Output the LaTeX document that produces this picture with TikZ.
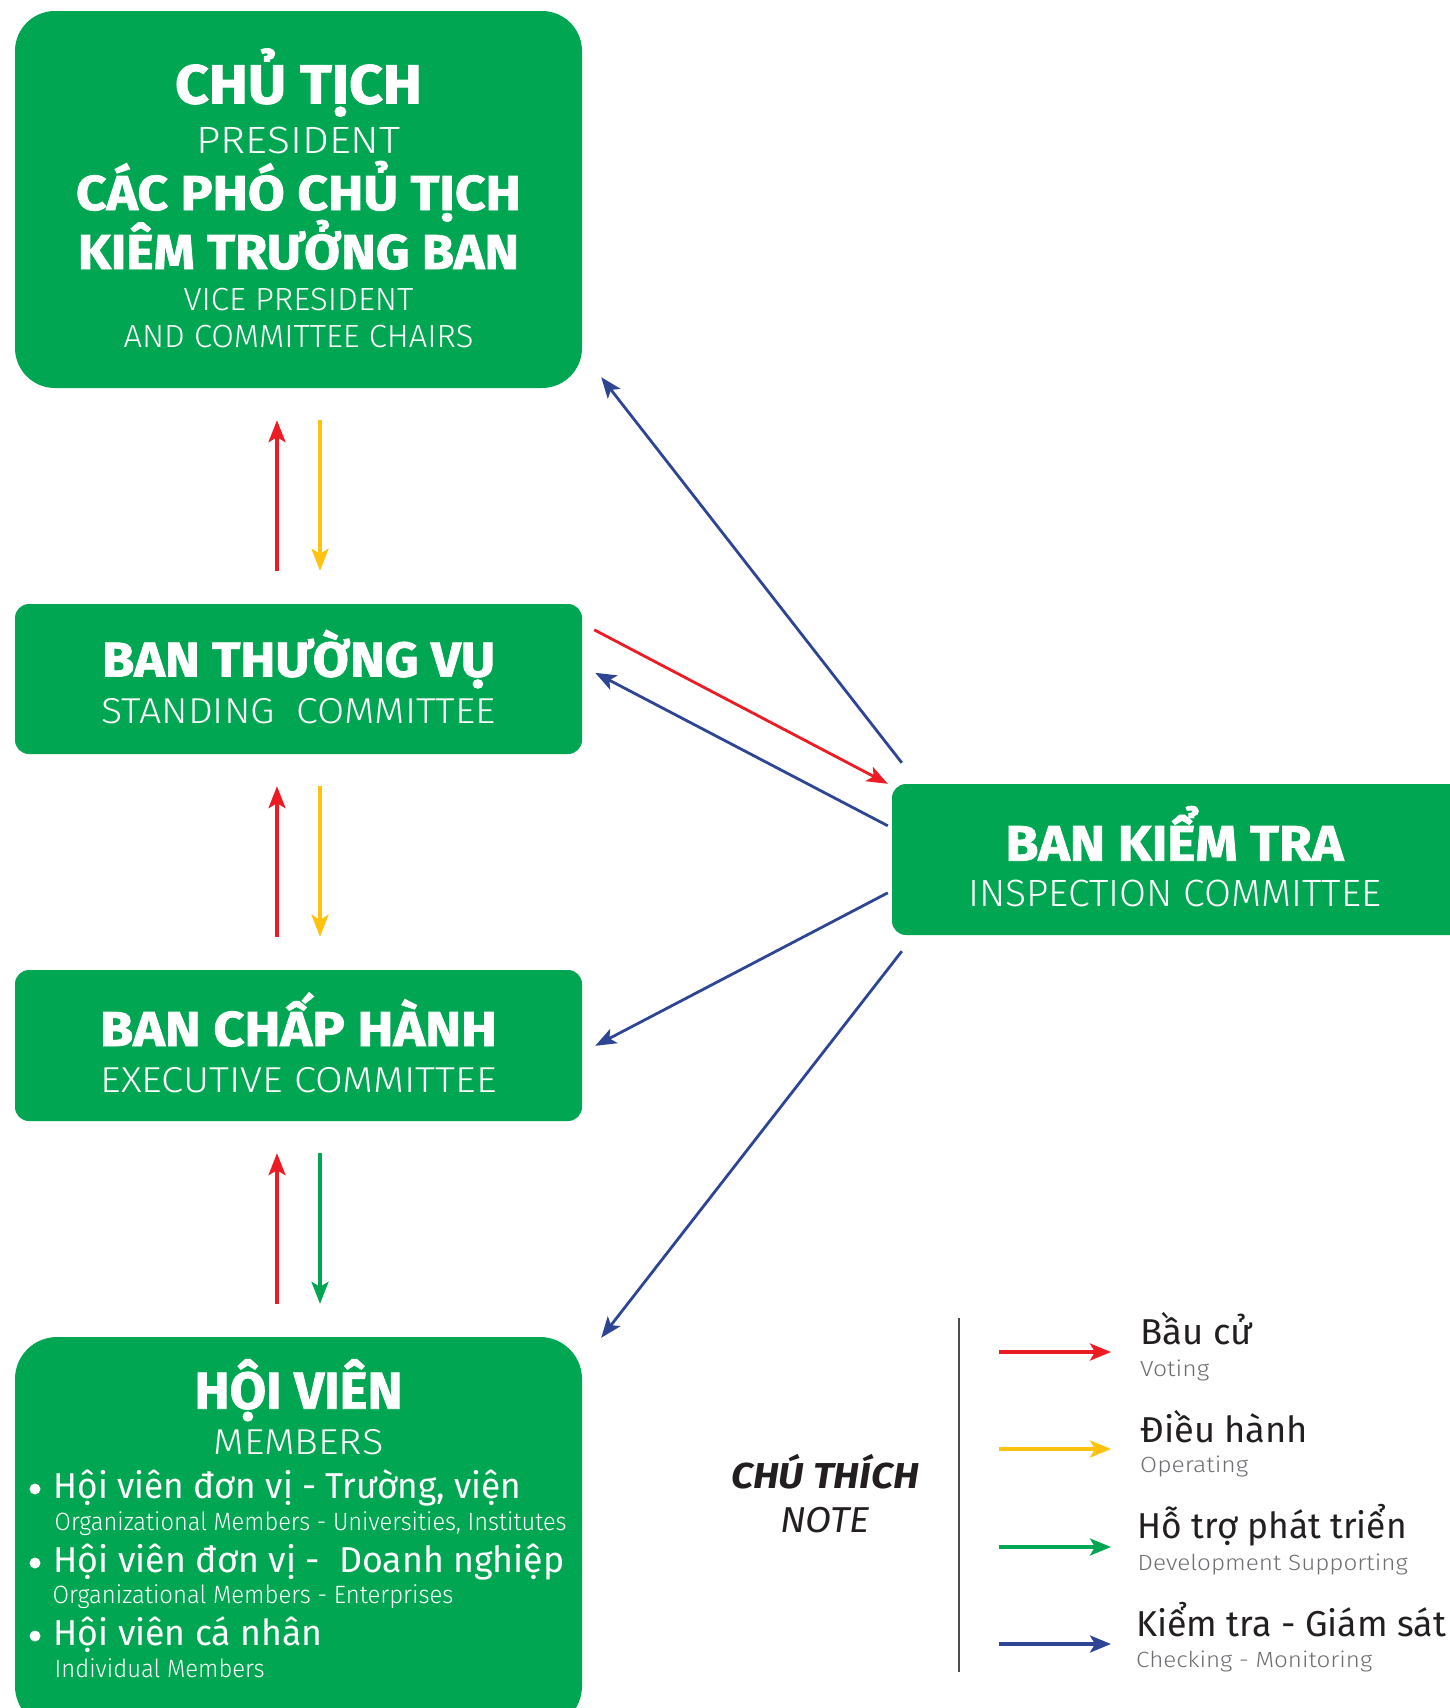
\documentclass[tikz,border=0pt]{standalone}
\usepackage{fontspec}
\usepackage{graphicx}
\setmainfont{Fira Sans}
\newfontfamily\lightf{Fira Sans Light}
\newfontfamily\heavyf{Fira Sans Bold}[FakeBold=1.5]
\usetikzlibrary{arrows.meta,calc}
\definecolor{vgreen}{HTML}{00A651}
\definecolor{vred}{HTML}{ED1C24}
\definecolor{vyellow}{HTML}{FFC20E}
\definecolor{vblue}{HTML}{2D4593}
\definecolor{vtext}{HTML}{231F20}
\definecolor{vgray}{HTML}{6D6E71}
\newcommand{\fitw}[2]{\resizebox{#1pt}{\height}{#2}}
\tikzset{
  box/.style={fill=vgreen, draw=none, inner sep=0pt},
  wt/.style={inner sep=0pt, anchor=base, text=white},
  lt/.style={inner sep=0pt, anchor=base west},
  ct/.style={inner sep=0pt, anchor=base, text=vtext},
  arr/.style={line width=3.2pt, -{Stealth[length=22pt,width=17pt,inset=5pt]}},
  darr/.style={line width=2.8pt, vblue, -{Stealth[length=21pt,width=16pt,inset=5pt]}},
  larr/.style={line width=3.4pt, -{Stealth[length=21pt,width=17pt,inset=5pt]}},
  hv/.style={font=\heavyf\fontsize{#1}{#1}\selectfont},
  lg/.style={font=\lightf\fontsize{#1}{#1}\selectfont},
  rg/.style={font=\fontsize{#1}{#1}\selectfont}
}
\begin{document}
\begin{tikzpicture}[x=1pt,y=-1pt]
\useasboundingbox (0,0) rectangle (1449,1708);
% boxes
\node[box, rounded corners=40pt, minimum width=567pt, minimum height=377pt] (pres) at (298.5,199.5) {};
\node[box, rounded corners=14pt, minimum width=567pt, minimum height=150pt] (stand) at (298.5,679) {};
\node[box, rounded corners=14pt, minimum width=567pt, minimum height=151pt] (exec) at (298.5,1045.5) {};
\node[box, rounded corners=42pt, minimum width=567pt, minimum height=391pt] (memb) at (298.5,1532.5) {};
\node[box, rounded corners=14pt, minimum width=578pt, minimum height=151pt] (insp) at (1181,859.5) {};
% box 1 texts
\node[wt, hv=55] (p1) at (298.5,103.5) {\fitw{247}{CHỦ TỊCH}};
\node[wt, lg=38] (p2) at (298.5,153.6) {\fitw{204}{PRESIDENT}};
\node[wt, hv=49] (p3) at (298.5,210) {\fitw{445}{CÁC PHÓ CHỦ TỊCH}};
\node[wt, hv=49] (p4) at (298.5,269) {\fitw{441}{KIÊM TRƯỞNG BAN}};
\node[wt, lg=32] (p5) at (298.5,310.5) {\fitw{230}{VICE PRESIDENT}};
\node[wt, lg=32] (p6) at (298.5,347.5) {\fitw{350}{AND COMMITTEE CHAIRS}};
% box 2 texts
\node[wt, hv=49] (s1) at (298.5,676.6) {\fitw{393}{BAN THƯỜNG VỤ}};
\node[wt, lg=36] (s2) at (298.5,723.4) {\fitw{394}{STANDING\ \ COMMITTEE}};
% box 3 texts
\node[wt, hv=49] (e1) at (298.5,1046) {\fitw{397}{BAN CHẤP HÀNH}};
\node[wt, lg=36] (e2) at (298.5,1092.8) {\fitw{396}{EXECUTIVE COMMITTEE}};
% inspection texts
\node[wt, hv=50] (i1) at (1174.5,860.7) {\fitw{338}{BAN KIỂM TRA}};
\node[wt, lg=38] (i2) at (1174.5,906.5) {\fitw{413}{INSPECTION COMMITTEE}};
% members texts
\node[wt, hv=52] (m1) at (298.5,1408.7) {\fitw{208}{HỘI VIÊN}};
\node[wt, lg=36] (m2) at (298.5,1454.5) {\fitw{170}{MEMBERS}};
\fill[white] (35,1489) circle (5.5pt);
\fill[white] (35,1563) circle (5.5pt);
\fill[white] (35,1636) circle (5.5pt);
\node[lt, text=white, rg=36] (m3) at (53.4,1498) {\fitw{468}{Hội viên đơn vị - Trường, viện}};
\node[lt, text=white, lg=25] (m4) at (54.5,1530.7) {\fitw{512}{Organizational Members - Universities, Institutes}};
\node[lt, text=white, rg=36] (m5) at (53.4,1572) {\fitw{511}{Hội viên đơn vị -\ \ Doanh nghiệp}};
\node[lt, text=white, lg=25] (m6) at (52.3,1603.7) {\fitw{401}{Organizational Members - Enterprises}};
\node[lt, text=white, rg=36] (m7) at (53.4,1645) {\fitw{269}{Hội viên cá nhân}};
\node[lt, text=white, lg=25] (m8) at (54.5,1677.8) {\fitw{210}{Individual Members}};
% vertical arrows
\draw[arr, vred, shorten <=33pt, shorten >=32pt] ($(stand.north)+(-21.5,0)$) -- ($(pres.south)+(-21.5,0)$);
\draw[arr, vyellow, shorten <=32pt, shorten >=33pt] ($(pres.south)+(21.5,0)$) -- ($(stand.north)+(21.5,0)$);
\draw[arr, vred, shorten <=33pt, shorten >=32pt] ($(exec.north)+(-21.5,0)$) -- ($(stand.south)+(-21.5,0)$);
\draw[arr, vyellow, shorten <=32pt, shorten >=33pt] ($(stand.south)+(21.5,0)$) -- ($(exec.north)+(21.5,0)$);
\draw[arr, vred, shorten <=33pt, shorten >=32pt] ($(memb.north)+(-21.5,0)$) -- ($(exec.south)+(-21.5,0)$);
\draw[arr, vgreen, shorten <=32pt, shorten >=33pt] ($(exec.south)+(21.5,0)$) -- ($(memb.north)+(21.5,0)$);
% diagonal arrows
\draw[darr] ($(insp.north west)+(10,-21)$) -- ($(pres.south east)+(19,-11)$);
\draw[darr, vred] ($(stand.north east)+(12,26)$) -- ($(insp.north west)+(-4,0)$);
\draw[darr] ($(insp.north west)+(-4,42)$) -- ($(stand.north east)+(13,69)$);
\draw[darr] ($(insp.north west)+(-4,109)$) -- ($(exec.north east)+(13,76)$);
\draw[darr] ($(insp.south west)+(10,16)$) -- ($(memb.north east)+(19,1)$);
% legend
\node[ct, font=\bfseries\itshape\fontsize{36}{36}\selectfont] (n1) at (825,1488) {\fitw{188}{CHÚ THÍCH}};
\node[ct, font=\itshape\fontsize{36}{36}\selectfont] (n2) at (825,1532) {\fitw{90}{NOTE}};
\coordinate (vt) at (959,1318);
\coordinate (vb) at (959,1672);
\draw[line width=1.6pt, vtext!80] (vt) -- (vb);
\coordinate (la1) at (999,1352); \coordinate (lb1) at (1111,1352);
\coordinate (la2) at (999,1449); \coordinate (lb2) at (1111,1449);
\coordinate (la3) at (999,1547); \coordinate (lb3) at (1111,1547);
\coordinate (la4) at (999,1644); \coordinate (lb4) at (1111,1644);
\draw[larr, vred] (la1) -- (lb1);
\draw[larr, vyellow] (la2) -- (lb2);
\draw[larr, vgreen] (la3) -- (lb3);
\draw[larr, vblue] (la4) -- (lb4);
\node[lt, text=vtext, rg=36] (g1) at (1140,1344.5) {\fitw{112}{Bầu cử}};
\node[lt, text=vgray, lg=22] (g1e) at (1140,1376) {\fitw{69}{Voting}};
\node[lt, text=vtext, rg=36] (g2) at (1140,1442.5) {\fitw{168}{Điều hành}};
\node[lt, text=vgray, lg=22] (g2e) at (1140,1472) {\fitw{108}{Operating}};
\node[lt, text=vtext, rg=36] (g3) at (1137.5,1538) {\fitw{269}{Hỗ trợ phát triển}};
\node[lt, text=vgray, lg=22] (g3e) at (1137.5,1570) {\fitw{270}{Development Supporting}};
\node[lt, text=vtext, rg=36] (g4) at (1136,1636.5) {\fitw{310}{Kiểm tra - Giám sát}};
\node[lt, text=vgray, lg=22] (g4e) at (1136,1667) {\fitw{236}{Checking - Monitoring}};
\end{tikzpicture}
\end{document}
